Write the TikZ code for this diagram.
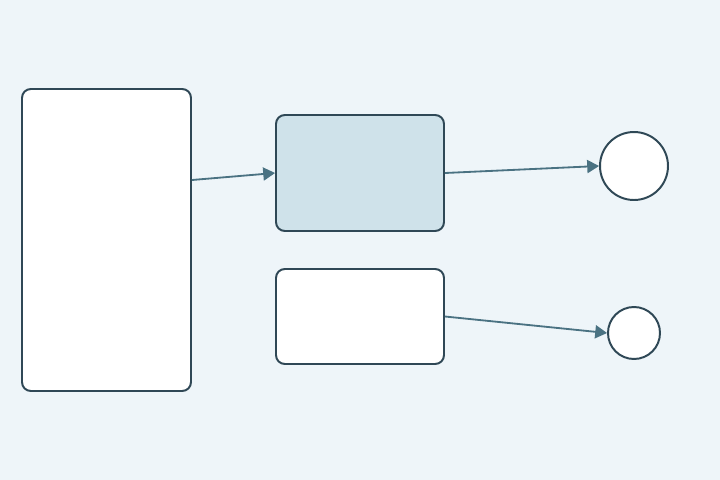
\documentclass[tikz,border=0pt]{standalone}
\usepackage[rgb]{xcolor}
\definecolor{pageBg}{HTML}{EEF5F9}
\definecolor{boxBorder}{HTML}{2F4856}
\definecolor{boxBlue}{HTML}{CFE2EA}
\definecolor{arrowLine}{HTML}{4A7282}
\usepackage{tikz}
\usetikzlibrary{shapes}
\usetikzlibrary{arrows}
\usetikzlibrary{positioning}
\tikzstyle{block} = [draw=boxBorder, fill=white, rounded corners=0.22cm, line width=1.4pt, inner sep=0pt]
\tikzstyle{stop} = [circle, draw=boxBorder, fill=white, line width=1.4pt, inner sep=0pt]
\tikzstyle{link} = [draw=arrowLine, line width=1.3pt, -triangle 60]

\begin{document}
\begin{tikzpicture}[
            every node/.style={font=\small}
        ]
            \fill [pageBg] (0,0) rectangle (18,-12);
            \useasboundingbox (0,0) rectangle (18,-12);
            \node [block, minimum width=4.225cm, minimum height=7.55cm] (source) at (2.6625,-6.0) {};
            \node [block, fill=boxBlue, minimum width=4.2cm, minimum height=2.9cm] (upper) at (9.0,-4.325) {};
            \node [block, minimum width=4.2cm, minimum height=2.375cm] (lower) at (9.0,-7.9125) {};
            \node [stop, minimum size=1.7cm] (endA) at (15.85,-4.15) {};
            \node [stop, minimum size=1.3cm] (endB) at (15.85,-8.325) {};
            \path [link] ([yshift=1.5cm]source.east) -- (upper.west);
            \path [link] (upper.east) -- (endA.west);
            \path [link] (lower.east) -- (endB.west);
        \end{tikzpicture}
\end{document}
